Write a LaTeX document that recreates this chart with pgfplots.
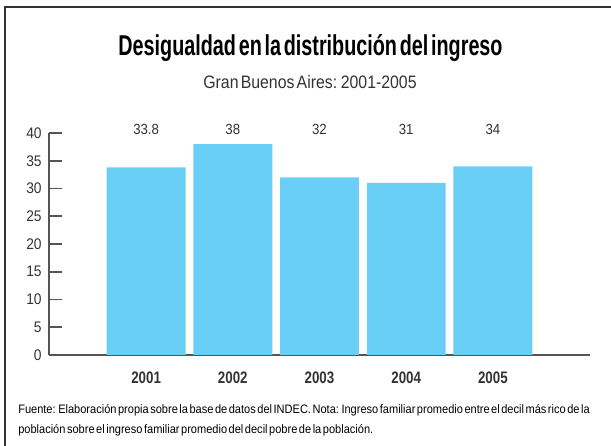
\documentclass[border=0pt]{standalone}
\usepackage{pgfplots}
\pgfplotsset{compat=1.18}
\usepackage{fontspec}
\setmainfont{Liberation Sans}
\newfontfamily\condreg{Liberation Sans}[FakeStretch=0.88,WordSpace=0.5]
\newfontfamily\condbold{Liberation Sans}[FakeStretch=0.69,WordSpace=0.5,UprightFont=* Bold]
\newfontfamily\condxtick{Liberation Sans}[FakeStretch=0.8,UprightFont=* Bold]
\newfontfamily\condtick{Liberation Sans}[FakeStretch=0.9]
\newfontfamily\condfoot{Liberation Sans}[FakeStretch=0.9,WordSpace=0.5]
\definecolor{barblue}{HTML}{6ACFF6}
\definecolor{axisgray}{HTML}{555555}
\definecolor{textgray}{HTML}{333333}
\begin{document}
\begin{tikzpicture}[x=0.75pt,y=0.75pt]
\useasboundingbox (0,0) rectangle (611,446);
\fill[white] (0,0) rectangle (611,446);
\draw[line width=1.5pt, color=textgray] (5,0) -- (5,439) -- (611,439);
\node[font=\condbold\fontsize{21.5}{24}\selectfont, text=black] at (310.5,398) {Desigualdad en la distribución del ingreso};
\node[font=\condreg\fontsize{13.5}{16}\selectfont, text=textgray] at (310,364) {Gran Buenos Aires: 2001-2005};
\node[font=\condfoot\fontsize{9.2}{11}\selectfont, text=black, anchor=west, inner sep=0pt] at (18,36) {Fuente: Elaboración propia sobre la base de datos del INDEC. Nota: Ingreso familiar promedio entre el decil más rico de la};
\node[font=\condfoot\fontsize{9.2}{11}\selectfont, text=black, anchor=west, inner sep=0pt] at (18,16) {población sobre el ingreso familiar promedio del decil pobre de la población.};
\begin{axis}[
  at={(36.75pt,68.25pt)}, anchor=south west,
  scale only axis, width=405.75pt, height=166.5pt,
  xmin=-1.12, xmax=5.12, ymin=0, ymax=40,
  axis x line=bottom, axis y line=left,
  axis line style={line width=1.5pt, color=axisgray, -},
  xtick={0,1,2,3,4}, xticklabels={2001,2002,2003,2004,2005},
  x tick style={draw=none},
  extra x ticks={5.12}, extra x tick labels={},
  extra x tick style={major tick length=4pt, tick align=inside, line width=1.5pt, black},
  ytick={0,5,10,15,20,25,30,35,40},
  y tick style={line width=1.2pt, color=axisgray},
  tick align=inside, major tick length=9.75pt,
  yticklabel style={font=\condtick\fontsize{11.5}{13}\selectfont, text=textgray, xshift=-2pt},
  xticklabel style={font=\condxtick\fontsize{12.5}{14}\selectfont, text=textgray, yshift=-8.75pt},
  /pgf/number format/assume math mode=true,
  clip=false,
]
\addplot[ybar, bar width=0.91, fill=barblue, draw=none] coordinates {(0,33.8) (1,38) (2,32) (3,31) (4,34)};
\addplot[draw=none, mark=none, nodes near coords, point meta=explicit symbolic,
  every node near coord/.append style={font=\condtick\fontsize{11}{13}\selectfont, text=textgray, anchor=center}]
  coordinates {(0,40.55)[33.8] (1,40.55)[38] (2,40.55)[32] (3,40.55)[31] (4,40.55)[34]};
\end{axis}
\end{tikzpicture}
\end{document}
